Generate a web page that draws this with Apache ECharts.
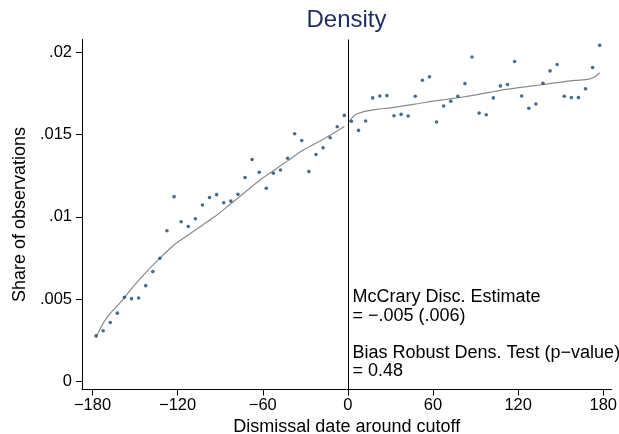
<!DOCTYPE html>
<html>
<head>
<meta charset="utf-8">
<script src="https://cdn.jsdelivr.net/npm/echarts@6/dist/echarts.min.js"></script>
<style>
html,body{margin:0;padding:0;background:#fff;}
#c{width:619px;height:434px;}
</style>
</head>
<body>
<div id="c"></div>
<script>
// Binned shares (5-day bins) left of cutoff
var leftX = [-177.5,-172.5,-167.5,-162.5,-157.5,-152.5,-147.5,-142.5,-137.5,-132.5,-127.5,-122.5,-117.5,-112.5,-107.5,-102.5,-97.5,-92.5,-87.5,-82.5,-77.5,-72.5,-67.5,-62.5,-57.5,-52.5,-47.5,-42.5,-37.5,-32.5,-27.5,-22.5,-17.5,-12.5,-7.5,-2.5];
var leftY = [0.00278,0.00309,0.00359,0.00416,0.00512,0.00504,0.00508,0.00583,0.00668,0.00749,0.00916,0.01123,0.00971,0.00942,0.00989,0.01072,0.01117,0.01135,0.01086,0.01096,0.01137,0.01239,0.01348,0.01271,0.01174,0.01265,0.01285,0.01356,0.01505,0.01464,0.01275,0.01379,0.01419,0.01480,0.01547,0.01616];
// Binned shares right of cutoff
var rightX = [2.5,7.5,12.5,17.5,22.5,27.5,32.5,37.5,42.5,47.5,52.5,57.5,62.5,67.5,72.5,77.5,82.5,87.5,92.5,97.5,102.5,107.5,112.5,117.5,122.5,127.5,132.5,137.5,142.5,147.5,152.5,157.5,162.5,167.5,172.5,177.5];
var rightY = [0.01580,0.01525,0.01582,0.01722,0.01734,0.01736,0.01614,0.01622,0.01612,0.01732,0.01829,0.01850,0.01576,0.01673,0.01702,0.01732,0.01809,0.01970,0.01630,0.01620,0.01722,0.01795,0.01803,0.01943,0.01734,0.01659,0.01685,0.01811,0.01886,0.01925,0.01732,0.01724,0.01724,0.01777,0.01907,0.02041];
// Fitted density, left side
var fitLeftX = [-177.5,-172.5,-167.5,-162.5,-157.5,-152.5,-142.5,-132.5,-122.5,-112.5,-102.5,-92.5,-82.5,-72.5,-62.5,-52.5,-42.5,-32.5,-22.5,-12.5,-2.5];
var fitLeftY = [0.0027,0.00355,0.00415,0.0046,0.0051,0.00565,0.00662,0.0075,0.0083,0.0089,0.0095,0.0101,0.0108,0.0115,0.0122,0.0128,0.0134,0.0140,0.01447,0.01495,0.01548];
// Fitted density, right side
var fitRightX = [1,5,10,20,30,40,50,60,70,80,90,100,110,120,130,140,150,160,170,174,177.5];
var fitRightY = [0.0158,0.01618,0.01636,0.01652,0.01662,0.01675,0.01688,0.01702,0.01714,0.01726,0.0174,0.01756,0.01772,0.01784,0.01795,0.01806,0.01818,0.01828,0.01836,0.0185,0.01875];
// Tick values
var xTicks = [-180,-120,-60,0,60,120,180];
var yTicks = [0,0.005,0.01,0.015,0.02];
var cutoff = 0;
var noteLines = ['McCrary Disc. Estimate','= \u2212.005 (.006)','Bias Robust Dens. Test (p\u2212value)','= 0.48'];

function zip(a,b){return a.map(function(v,i){return [v,b[i]];});}

var FONT = '"Liberation Sans", Arial, sans-serif';
var chart = echarts.init(document.getElementById('c'), null, {renderer:'canvas'});
var noteTops = [288, 307, 344, 362];
chart.setOption({
  backgroundColor:'#ffffff',
  animation:false,
  textStyle:{fontFamily:FONT},
  title:{
    text:'Density', left:346.5, top:8, textAlign:'center', padding:0,
    textStyle:{fontFamily:FONT, fontSize:24, fontWeight:'normal', color:'#1e2d5e'}
  },
  grid:{left:82, right:7.5, top:39.5, bottom:44.5, containLabel:false, outerBoundsMode:'none'},
  xAxis:{
    type:'value', min:-187.4, max:185.8,
    name:'Dismissal date around cutoff', nameLocation:'middle', nameGap:23,
    nameTextStyle:{fontFamily:FONT, fontSize:18, color:'#000'},
    axisLine:{onZero:false, lineStyle:{color:'#000', width:1}},
    axisTick:{show:true, length:6, lineStyle:{color:'#000'}, customValues:xTicks},
    axisLabel:{fontFamily:FONT, fontSize:16.5, color:'#000', margin:7, customValues:xTicks,
      formatter:function(v){return v<0?'\u2212'+Math.abs(v):String(v);}},
    splitLine:{show:false}
  },
  yAxis:{
    type:'value', min:-0.000473, max:0.020765,
    name:'Share of observations', nameLocation:'middle', nameGap:53, nameRotate:90,
    nameTextStyle:{fontFamily:FONT, fontSize:18, color:'#000'},
    axisLine:{show:true, onZero:false, lineStyle:{color:'#000', width:1}},
    axisTick:{show:true, length:6, lineStyle:{color:'#000'}, customValues:yTicks},
    axisLabel:{fontFamily:FONT, fontSize:16.5, color:'#000', margin:10, customValues:yTicks,
      formatter:function(v){ if(Math.abs(v)<1e-12) return '0'; return String(+v.toFixed(4)).replace(/^0\./,'.'); }},
    splitLine:{show:false}
  },
  graphic: noteLines.map(function(t,i){
    return {type:'text', left:352.5, top:noteTops[i], silent:true,
      style:{text:t, fontFamily:FONT, fontSize:18, fill:'#000'}};
  }),
  series:[
    {type:'line', data:zip(fitLeftX,fitLeftY), showSymbol:false, smooth:0.3,
     lineStyle:{color:'#8a8a8a', width:1.2}, silent:true, z:2},
    {type:'line', data:zip(fitRightX,fitRightY), showSymbol:false, smooth:0.3,
     lineStyle:{color:'#8a8a8a', width:1.2}, silent:true, z:2},
    {type:'scatter', data:zip(leftX,leftY), symbolSize:3.6,
     itemStyle:{color:'#1a476f'}, z:3,
     markLine:{silent:true, symbol:'none', label:{show:false},
       lineStyle:{color:'#000', width:1, type:'solid'},
       data:[{xAxis:cutoff}]}},
    {type:'scatter', data:zip(rightX,rightY), symbolSize:3.6,
     itemStyle:{color:'#1a476f'}, z:3}
  ]
});
</script>
</body>
</html>
